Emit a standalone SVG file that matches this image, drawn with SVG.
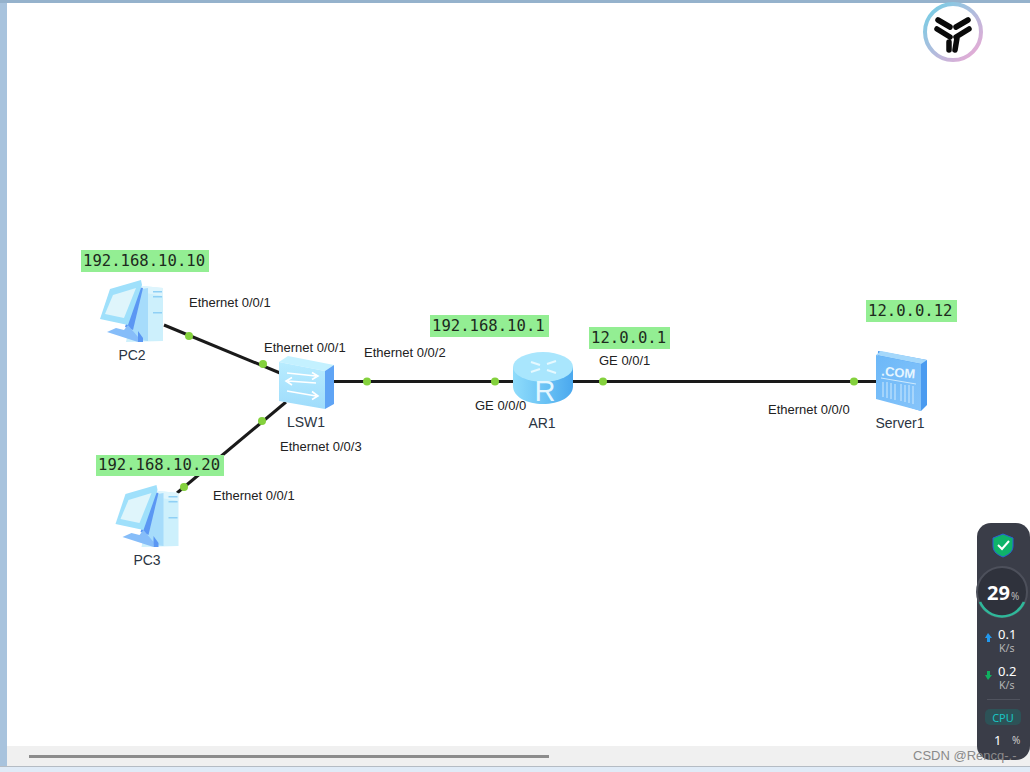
<svg xmlns="http://www.w3.org/2000/svg" width="1030" height="772" viewBox="0 0 1030 772">
<style>
.lb{font:13px "Liberation Sans",Arial,sans-serif;fill:#222}
.nm{font:14px "Liberation Sans",Arial,sans-serif;fill:#2a3442}
.ip{font:15.6px "DejaVu Sans Mono",monospace;fill:#1d2a1d}
.box{fill:#93ee93}
.ln{stroke:#1a1a1a;stroke-width:3;fill:none}
.dot{fill:#84d13d}
.w{font-family:"Noto Sans","Open Sans",sans-serif;fill:#fff}
</style>
<defs>
<linearGradient id="ring" x1="0" y1="0" x2="1" y2="1"><stop offset="0" stop-color="#6fd0e6"/><stop offset="1" stop-color="#f0a8d4"/></linearGradient>
<linearGradient id="sw" x1="0" y1="0" x2="0" y2="1"><stop offset="0" stop-color="#b8ecff"/><stop offset="1" stop-color="#9fdcfb"/></linearGradient>
<linearGradient id="rt" x1="0" y1="0" x2="1" y2="0"><stop offset="0" stop-color="#8fdcfb"/><stop offset=".5" stop-color="#6cc4f5"/><stop offset="1" stop-color="#4aa8ee"/></linearGradient>
<linearGradient id="sv" x1="0" y1="0" x2="1" y2="1"><stop offset="0" stop-color="#6cb8f8"/><stop offset="1" stop-color="#86c4fa"/></linearGradient>
<g id="pc">
<polygon points="143,286 163,288 163,341 126,342 135,300" fill="#cdf0fc"/>
<polygon points="130,284 143,286 163,288 163,296 140,292" fill="#e2f6fd" opacity=".8"/>
<polygon points="136,290 148,288 148,341 132,339" fill="#a6dcfb"/>
<polygon points="138,287 143,288 133,330 125,327" fill="#5b97f3"/>
<polygon points="110,289 141,280 142,285 128,325 100,319" fill="#9fe0fb"/>
<polygon points="113,295 136,288 124,318 105,314" fill="#dff5fb"/>
<polygon points="107,332 116,328 124,330 128,325 138,337 138,342" fill="#86bdf9"/>
<polygon points="138,331 143,338 143,342 138,342" fill="#5b97f3"/>
<rect x="153" y="291" width="9" height="1.5" fill="#8fd0f5"/><rect x="153" y="296" width="9" height="1.5" fill="#8fd0f5"/><rect x="153" y="312" width="9" height="1.5" fill="#8fd0f5"/>
</g>
</defs>
<rect width="1030" height="772" fill="#fff"/>
<g id="chrome">
<rect width="1030" height="3" fill="#95b2cc"/>
<rect y="3" width="7" height="769" fill="#a8c3dd"/>
<rect x="7" y="746" width="1023" height="20" fill="#f0f0f0"/>
<rect y="766" width="1030" height="1" fill="#b5bcc4"/>
<rect y="767" width="1030" height="5" fill="#e0ebf7"/>
<rect x="29" y="755" width="520" height="3" fill="#8c8c8c"/>
</g>
<g id="connectors">
<line class="ln" x1="164" y1="325" x2="280" y2="373"/>
<line class="ln" x1="286" y1="402" x2="177" y2="493"/>
<line class="ln" x1="334" y1="381.500" x2="513" y2="381.500"/>
<line class="ln" x1="573" y1="381.500" x2="876" y2="381.500"/>
<circle class="dot" cx="189" cy="336" r="4"/>
<circle class="dot" cx="263" cy="364" r="4"/>
<circle class="dot" cx="262" cy="421" r="4"/>
<circle class="dot" cx="184" cy="487" r="4"/>
<circle class="dot" cx="367" cy="381.500" r="4"/>
<circle class="dot" cx="495" cy="381.500" r="4"/>
<circle class="dot" cx="603" cy="381.500" r="4"/>
<circle class="dot" cx="854" cy="381.500" r="4"/>
</g>
<g id="PC2"><use href="#pc"/><text class="nm" x="132" y="360" text-anchor="middle">PC2</text></g>
<g id="PC3"><use href="#pc" x="15.500" y="205"/><text class="nm" x="147" y="565" text-anchor="middle">PC3</text></g>
<g id="LSW1">
<polygon points="288,356 334,365 325,371 279,362" fill="#c4f1ff"/>
<polygon points="325,371 334,365 334,404 325,409" fill="#5fa4f5"/>
<polygon points="279,362 325,371 325,409 279,401" fill="url(#sw)"/>
<path d="M287 373 L316 376 M312 372.500 L318 376 L312 379.500 M316 383 L288 381 M292 377.500 L286 381 L292 385 M287 391 L316 396 M312 391.500 L318 396 L312 399.500" stroke="#fff" stroke-width="1.600" fill="none"/>
<text class="nm" x="306" y="427" text-anchor="middle" font-size="14">LSW1</text>
</g>
<g id="AR1">
<path d="M513 367 V386 C513 397 527 404 543 404 C559 404 573 397 573 386 V367 Z" fill="url(#rt)"/>
<ellipse cx="543" cy="367" rx="30" ry="15" fill="#a9e6fd"/>
<path d="M531 362 L540 365 M547 370 L556 373 M556 361 L547 364 M540 369 L531 372" stroke="#e6f9ff" stroke-width="2" fill="none"/>
<text x="545" y="401" text-anchor="middle" font-family="Liberation Sans,sans-serif" font-size="29" fill="#e4f7ff">R</text>
<text class="nm" x="542" y="428" text-anchor="middle">AR1</text>
</g>
<g id="Server1">
<polygon points="878,351 927,360 927,405 921,411 876,397" fill="#4a9bf0"/>
<polygon points="876,355 881,351 927,360 921,364" fill="#a5d8fb"/>
<polygon points="876,355 921,364 921,411 876,399" fill="url(#sv)"/>
<text x="898" y="377" text-anchor="middle" font-family="Liberation Sans,sans-serif" font-weight="700" font-size="13" fill="#e6f6ff" transform="rotate(5 898 377)">.COM</text>
<path d="M881 378 L916 384 M883 382 V397 M887 382 V398 M891 383 V399 M895 384 V400 M901 384 V401 M905 385 V402 M909 385 V403 M913 386 V404" stroke="#cfeafd" stroke-width="1" fill="none"/>
<text class="nm" x="900" y="428" text-anchor="middle">Server1</text>
</g>
<g id="addr">
<rect class="box" x="81" y="250" width="128" height="22"/><text class="ip" x="83" y="266">192.168.10.10</text>
<rect class="box" x="96" y="455" width="128" height="21"/><text class="ip" x="98" y="470">192.168.10.20</text>
<rect class="box" x="430" y="315" width="119" height="22"/><text class="ip" x="432" y="331">192.168.10.1</text>
<rect class="box" x="589" y="327" width="81" height="22"/><text class="ip" x="591" y="343">12.0.0.1</text>
<rect class="box" x="866" y="300" width="91" height="22"/><text class="ip" x="868" y="316">12.0.0.12</text>
</g>
<line class="ln" x1="215" y1="445" x2="177" y2="493" stroke-opacity="0"/>
<g id="labels">
<text class="lb" x="189" y="307">Ethernet 0/0/1</text>
<text class="lb" x="264" y="352">Ethernet 0/0/1</text>
<text class="lb" x="364" y="357">Ethernet 0/0/2</text>
<text class="lb" x="280" y="451">Ethernet 0/0/3</text>
<text class="lb" x="213" y="500">Ethernet 0/0/1</text>
<text class="lb" x="475" y="410">GE 0/0/0</text>
<text class="lb" x="599" y="365">GE 0/0/1</text>
<text class="lb" x="768" y="414">Ethernet 0/0/0</text>
</g>
<g id="logo">
<circle cx="953" cy="32" r="28" fill="#fff" stroke="url(#ring)" stroke-width="4"/>
<path d="M938 20 L950 27 M968 20 L956 27 M937 29 L950 37 M969 29 L956 37 M949 42 V50 M957 38 L955 50" stroke="#0a0a0a" stroke-width="5.500" stroke-linecap="round" fill="none"/>
</g>
<g id="monitor">
<rect x="977" y="523" width="53" height="237" rx="14" fill="#3a3d48"/>
<path d="M1003 534 L1013 538 V546 C1013 552 1008 555 1003 557 C998 555 993 552 993 546 V538 Z" fill="#0fb36a" stroke="#2a60d8" stroke-width="1"/>
<path d="M998 545 L1002 549 L1009 541" stroke="#fff" stroke-width="2" fill="none"/>
<circle cx="1002" cy="592" r="25" fill="#2f323c" stroke="#4d505b" stroke-width="2"/>
<path d="M980 602 A24 24 0 0 0 1024 602" stroke="#2fb89a" stroke-width="2.500" fill="none"/>
<text class="w" x="987" y="600" font-size="20" font-weight="700">29</text>
<text x="1011" y="600" font-family="Noto Sans,sans-serif" font-size="10" fill="#bbb">%</text>
<path d="M988 633 L992 638 H990 V642 H987 V638 H985 Z" fill="#2299ee"/>
<path d="M988 680 L992 675 H990 V671 H987 V675 H985 Z" fill="#10b060"/>
<text class="w" x="998" y="639" font-size="13">0.1</text>
<text x="999" y="652" font-family="Noto Sans,sans-serif" font-size="10.500" fill="#b5b5b5">K/s</text>
<text class="w" x="998" y="676" font-size="13">0.2</text>
<text x="999" y="689" font-family="Noto Sans,sans-serif" font-size="10.500" fill="#b5b5b5">K/s</text>
<rect x="987" y="699" width="33" height="1" fill="#50535e"/>
<rect x="985" y="709" width="36" height="16" rx="5" fill="#2d5257"/>
<text x="1003" y="722" text-anchor="middle" font-family="Noto Sans,sans-serif" font-size="11" fill="#19c4c4">CPU</text>
<text class="w" x="994" y="745" font-size="13">1</text>
<text x="1012" y="744" font-family="Noto Sans,sans-serif" font-size="10" fill="#ccc">%</text>
</g>
<text x="913" y="760" font-family="Liberation Sans,sans-serif" font-size="13" fill="#8a8a8a">CSDN @Rencq-.-</text>
</svg>
